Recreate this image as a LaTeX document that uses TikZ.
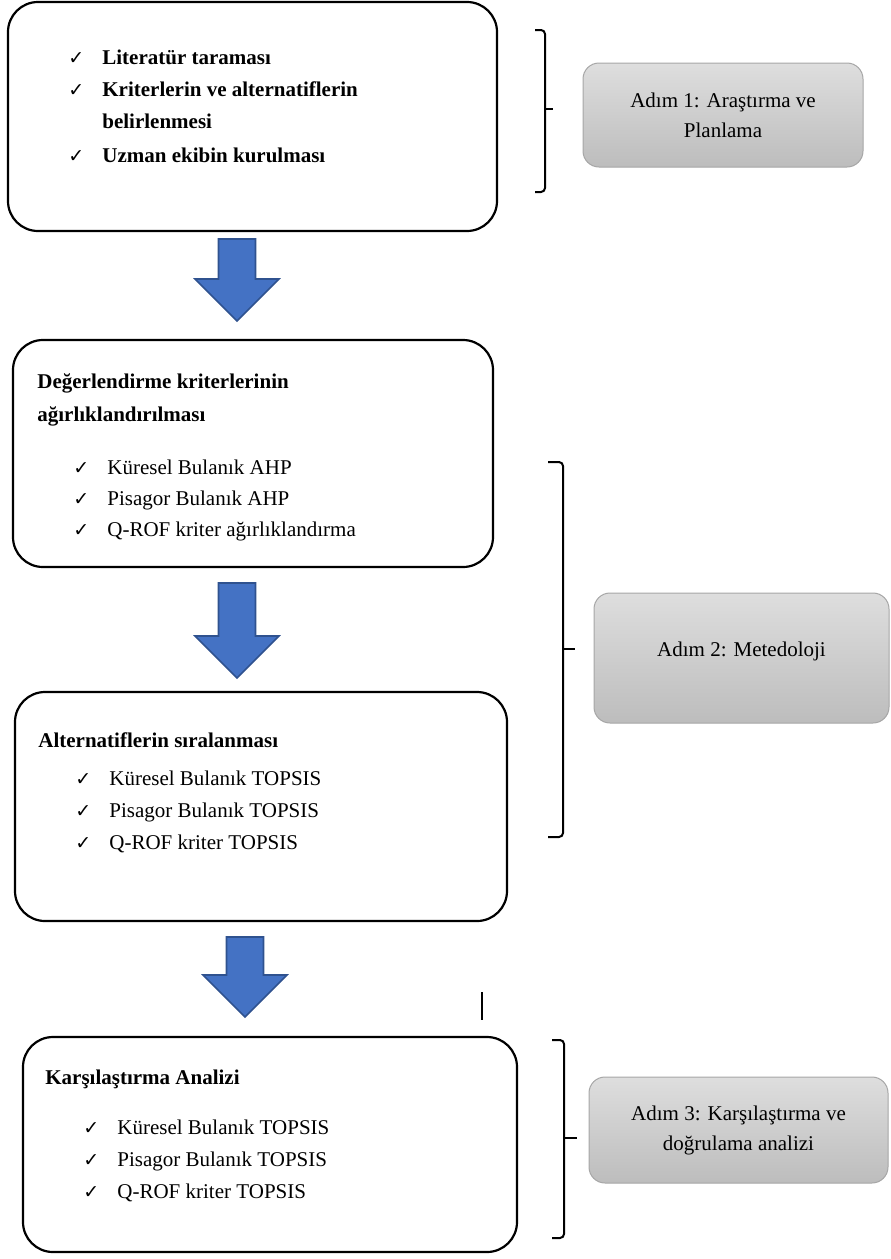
\documentclass[tikz,border=0pt]{standalone}
\usepackage{fontspec}
\setmainfont{Liberation Serif}
\newfontfamily\checkfam{DejaVu Sans}
\usepackage{tikz}
\usetikzlibrary{positioning, calc}

\definecolor{arrowblue}{HTML}{4472C4}
\definecolor{arrowedge}{HTML}{2F528F}
\definecolor{stepedge}{HTML}{A6A6A6}

\newcommand{\chk}{\makebox[17pt][l]{\checkfam\fontsize{9.5}{9.5}\selectfont ✓}}

\tikzset{
  mainbox/.style={draw, line width=1.1pt, rounded corners=15pt, fill=white},
  stepbox/.style={draw=stepedge, line width=0.5pt, rounded corners=8pt, top color=black!13, bottom color=black!26, align=center, font=\fontsize{10.5}{15}\selectfont},
  title/.style={anchor=base west, inner sep=0pt, font=\fontsize{10.5}{15}\selectfont\bfseries},
  item/.style={anchor=base west, inner sep=0pt, font=\fontsize{10.5}{15}\selectfont},
  bracket/.style={line width=1pt, rounded corners=2pt},
  blockarrow/.style={fill=arrowblue, draw=arrowedge, line width=0.8pt, line join=miter}
}

\begin{document}
\begin{tikzpicture}[x=0.5pt, y=-0.5pt]
    \useasboundingbox (0,0) rectangle (890,1259);

    % Kutular
    \node[mainbox, minimum width=244.5pt, minimum height=114.5pt] (box1) at (252.5,116.5) {};
    \node[mainbox, minimum width=240pt, minimum height=113.5pt] (box2) at (253,453.5) {};
    \node[mainbox, minimum width=246pt, minimum height=114.5pt] (box3) at (261,806.5) {};
    \node[mainbox, minimum width=247pt, minimum height=107.5pt] (box4) at (270,1144.5) {};

    % Adim kutulari
    \node[stepbox, minimum width=140pt, minimum height=52pt] (step1) at (723,115) {Adım 1: Araştırma ve\\Planlama};
    \node[stepbox, minimum width=147.5pt, minimum height=65pt] (step2) at (741.5,658) {Adım 2: Metedoloji\\[-6pt]};
    \node[stepbox, minimum width=149.5pt, minimum height=53pt] (step3) at (738.5,1130) {Adım 3: Karşılaştırma ve\\doğrulama analizi};

    % Kutu 1
    \node[title] (lit) at (68,64) {\chk Literatür taraması};
    \node[title] (krit) at (68,96) {\chk Kriterlerin ve alternatiflerin};
    \node[title] (krit2) at (102,128) {belirlenmesi};
    \node[title] (uzman) at (68,162) {\chk Uzman ekibin kurulması};

    % Kutu 2
    \node[title] (agr) at (37,388) {Değerlendirme kriterlerinin};
    \node[title] (agr2) at (37,421) {ağırlıklandırılması};
    \foreach \txt [count=\i] in {Küresel Bulanık AHP, Pisagor Bulanık AHP, Q-ROF kriter ağırlıklandırma}
        \node[item] (ahp\i) at (73,{443+31*\i}) {\chk\txt};

    % Kutu 3
    \node[title] (sira) at (38,747) {Alternatiflerin sıralanması};
    \foreach \txt [count=\i] in {Küresel Bulanık TOPSIS, Pisagor Bulanık TOPSIS, Q-ROF kriter TOPSIS}
        \node[item] (top\i) at (75,{753+32*\i}) {\chk\txt};

    % Kutu 4
    \node[title] (kars) at (45,1084) {Karşılaştırma Analizi};
    \foreach \txt [count=\i] in {Küresel Bulanık TOPSIS, Pisagor Bulanık TOPSIS, Q-ROF kriter TOPSIS}
        \node[item] (dog\i) at (83,{1102+32*\i}) {\chk\txt};

    % Oklar
    \foreach \x/\ya/\yb in {237/239/321, 237/583/678, 245/937/1017}
        \filldraw[blockarrow] (\x-18.5,\ya) -- (\x+18.5,\ya) -- (\x+18.5,\yb-42) -- (\x+42,\yb-42)
            -- (\x,\yb) -- (\x-42,\yb-42) -- (\x-18.5,\yb-42) -- cycle;

    % Parantezler
    \draw[bracket] (535,30) -- (545,30) -- (545,192) -- (535,192);
    \draw[bracket] (545,109) -- (553,109);
    \draw[bracket] (548,462) -- (563,462) -- (563,837) -- (548,837);
    \draw[bracket] (563,649) -- (575,649);
    \draw[bracket] (552,1040) -- (564,1040) -- (564,1238) -- (552,1238);
    \draw[bracket] (564,1138) -- (577,1138);

    \draw[line width=0.6pt] (482,992) -- (482,1020);
\end{tikzpicture}
\end{document}
